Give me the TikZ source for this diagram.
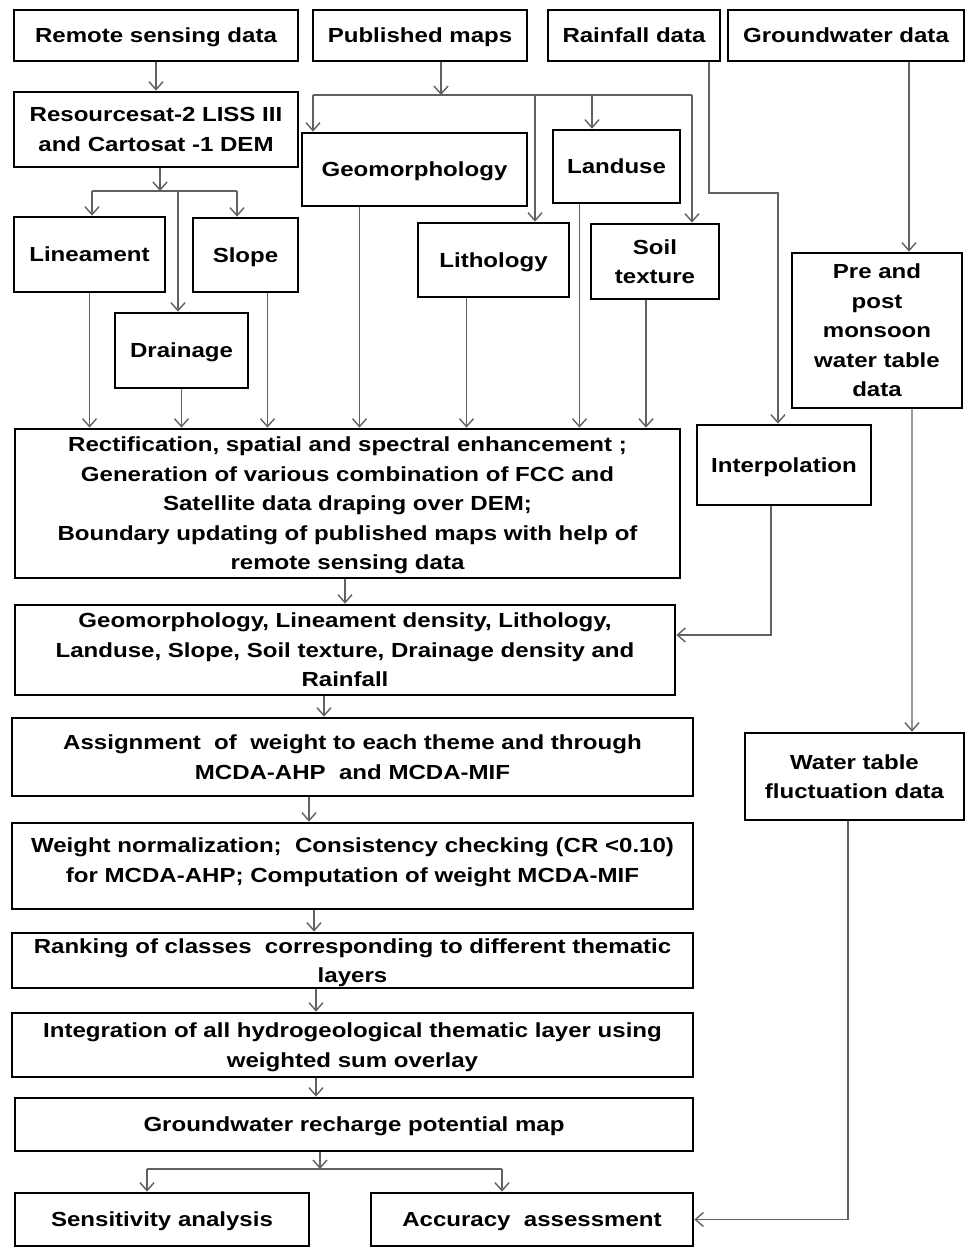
\documentclass[tikz,border=0pt]{standalone}
\usepackage{fontspec}
\setmainfont{Liberation Sans}[FakeStretch=1.18]
\usetikzlibrary{arrows.meta,calc}

\begin{document}
\begin{tikzpicture}[x=0.02cm, y=-0.02cm,
    caja/.style={draw=black, line width=1.6pt, inner sep=0pt, align=center, text depth=0pt,
        font=\fontsize{11.6}{16.8}\selectfont\bfseries},
    tam/.style 2 args={minimum width=#1*0.02cm, minimum height=#2*0.02cm},
    flecha/.style={draw=black!62, line width=0.8pt, -{Straight Barb[length=4.5pt,width=8pt]}},
    linea/.style={draw=black!62, line width=0.8pt}]
        \useasboundingbox (0,0) rectangle (967,1249);
        %%%%%%%%%%%%%%%%%%%%%%%% Fuentes de datos %%%%%%%%%%%%%%%%%%%%%%%%%%%%%%%%%%%
        \node[caja, tam={284}{51}] (rsd) at (156,35.5) {Remote sensing data};
        \node[caja, tam={214}{51}] (pmap) at (420,35.5) {Published maps};
        \node[caja, tam={172}{51}] (rain) at (634,35.5) {Rainfall data};
        \node[caja, tam={236}{51}] (gwd) at (846,35.5) {Groundwater data};
        %%%%%%%%%%%%%%%%%%%%%%%% Capas tematicas %%%%%%%%%%%%%%%%%%%%%%%%%%%%%%%%%%%%
        \node[caja, tam={284}{75}] (dem) at (156,129.5) {Resourcesat-2 LISS III\\and Cartosat -1 DEM};
        \node[caja, tam={225}{73}] (geo) at (414.5,169.5) {Geomorphology};
        \node[caja, tam={127}{73}] (land) at (616.5,166.5) {Landuse};
        \node[caja, tam={151}{74}] (lith) at (493.5,260) {Lithology};
        \node[caja, tam={128}{75}] (soil) at (655,261.5) {Soil\\texture};
        \node[caja, tam={151}{75}] (lin) at (89.5,254.5) {Lineament};
        \node[caja, tam={105}{74}] (slope) at (245.5,255) {Slope};
        \node[caja, tam={133}{75}] (drain) at (181.5,350.5) {Drainage};
        \node[caja, tam={170}{155}] (prepost) at (877,330.5) {Pre and\\post\\monsoon\\water table\\data};
        %%%%%%%%%%%%%%%%%%%%%%%% Procesado %%%%%%%%%%%%%%%%%%%%%%%%%%%%%%%%%%%%%%%%%%
        \node[caja, tam={665}{149}] (rect) at (347.5,503.5) {Rectification, spatial and spectral enhancement ;\\Generation of various combination of FCC and\\Satellite data draping over DEM;\\Boundary updating of published maps with help of\\remote sensing data};
        \node[caja, tam={174}{80}] (interp) at (784,465) {Interpolation};
        \node[caja, tam={660}{90}] (theme) at (345,650) {Geomorphology, Lineament density, Lithology,\\Landuse, Slope, Soil texture, Drainage density and\\Rainfall};
        \node[caja, tam={681}{78}] (assign) at (352.5,757) {Assignment\ \ of\ \ weight to each theme and through\\MCDA-AHP\ \ and MCDA-MIF};
        \node[caja, tam={681}{86}, text depth=6.8pt] (wnorm) at (352.5,866) {Weight normalization;\ \ Consistency checking (CR <0.10)\\for MCDA-AHP; Computation of weight MCDA-MIF};
        \node[caja, tam={219}{87}] (wtf) at (854.5,776.5) {Water table\\fluctuation data};
        \node[caja, tam={681}{55}] (rank) at (352.5,960.5) {Ranking of classes\ \ corresponding to different thematic\\layers};
        \node[caja, tam={681}{64}] (integ) at (352.5,1045) {Integration of all hydrogeological thematic layer using\\weighted sum overlay};
        \node[caja, tam={678}{53}] (gwr) at (354,1124.5) {Groundwater recharge potential map};
        \node[caja, tam={294}{53}] (sens) at (162,1219.5) {Sensitivity analysis};
        \node[caja, tam={322}{53}] (acc) at (532,1219.5) {Accuracy\ \ assessment};
        %%%%%%%%%%%%%%%%%%%%%%%% Puntos de reparto %%%%%%%%%%%%%%%%%%%%%%%%%%%%%%%%%%
        \coordinate (bpm) at (441,95);   % bajada mapas publicados
        \coordinate (bpmA) at (313,95);
        \coordinate (bpmB) at (535,95);
        \coordinate (bpmC) at (592,95);
        \coordinate (bpmD) at (692,95);
        \coordinate (bdem) at (160,191); % bajada DEM
        \coordinate (bdemA) at (92,191);
        \coordinate (bdemB) at (178,191);
        \coordinate (bdemC) at (237,191);
        \coordinate (rbend) at (709,193); % codo lluvia
        \coordinate (bgw) at (320,1169);  % bajada mapa final
        \coordinate (bsen) at (147,1169);
        \coordinate (bacc) at (502,1169);
        %%%%%%%%%%%%%%%%%%%%%%%% Flechas superiores %%%%%%%%%%%%%%%%%%%%%%%%%%%%%%%%%
        \draw[flecha] (rsd) -- (dem);
        \draw[flecha] (pmap.south -| bpm) -- (bpm);
        \draw[linea] (bpmA) -- (bpmD);
        \draw[flecha] (bpmA) -- (bpmA |- geo.north);
        \draw[flecha] (bpmB) -- (bpmB |- lith.north);
        \draw[flecha] (bpmC) -- (bpmC |- land.north);
        \draw[flecha] (bpmD) -- (bpmD |- soil.north);
        \draw[flecha] (dem.south -| bdem) -- (bdem);
        \draw[linea] (bdemA) -- (bdemC);
        \draw[flecha] (bdemA) -- (bdemA |- lin.north);
        \draw[flecha] (bdemB) -- (bdemB |- drain.north);
        \draw[flecha] (bdemC) -- (bdemC |- slope.north);
        \draw[flecha] (rain.south -| rbend) -- (rbend) -| ($(interp.north)+(-6,0)$);
        \draw[flecha] ($(gwd.south)+(63,0)$) -- ($(prepost.north)+(32,0)$);
        %%%%%%%%%%%%%%%%%%%%%%%% Hacia el recuadro de rectificacion %%%%%%%%%%%%%%%%%
        \draw[flecha] (lin.south) -- (lin.south |- rect.north);
        \draw[flecha] (drain.south) -- (drain.south |- rect.north);
        \draw[flecha] ($(slope.south)+(22,0)$) -- ($(slope.south |- rect.north)+(22,0)$);
        \draw[flecha] ($(geo.south)+(-55,0)$) -- ($(geo.south |- rect.north)+(-55,0)$);
        \draw[flecha] ($(lith.south)+(-27,0)$) -- ($(lith.south |- rect.north)+(-27,0)$);
        \draw[flecha] ($(land.south)+(-37,0)$) -- ($(land.south |- rect.north)+(-37,0)$);
        \draw[flecha] ($(soil.south)+(-9,0)$) -- ($(soil.south |- rect.north)+(-9,0)$);
        %%%%%%%%%%%%%%%%%%%%%%%% Cadena central %%%%%%%%%%%%%%%%%%%%%%%%%%%%%%%%%%%%%%
        \draw[flecha] (rect.south -| theme) -- (theme);
        \draw[flecha] ($(interp.south)+(-13,0)$) |- ($(theme.east)+(0,-15)$);
        \draw[flecha] ($(theme.south)+(-21,0)$) -- ($(assign.north)+(-28.5,0)$);
        \draw[flecha] ($(assign.south)+(-43.5,0)$) -- ($(wnorm.north)+(-43.5,0)$);
        \draw[flecha] ($(wnorm.south)+(-38.5,0)$) -- ($(rank.north)+(-38.5,0)$);
        \draw[flecha] ($(rank.south)+(-36.5,0)$) -- ($(integ.north)+(-36.5,0)$);
        \draw[flecha] ($(integ.south)+(-36.5,0)$) -- ($(gwr.north)+(-38,0)$);
        \draw[flecha] (gwr.south -| bgw) -- (bgw);
        \draw[linea] (bsen) -- (bacc);
        \draw[flecha] (bsen) -- (bsen |- sens.north);
        \draw[flecha] (bacc) -- (bacc |- acc.north);
        %%%%%%%%%%%%%%%%%%%%%%%% Nivel freatico %%%%%%%%%%%%%%%%%%%%%%%%%%%%%%%%%%%%%%
        \draw[flecha] ($(prepost.south)+(35,0)$) -- ($(wtf.north)+(57.5,0)$);
        \draw[flecha] ($(wtf.south)+(-6.5,0)$) |- (acc.east);
\end{tikzpicture}
\end{document}
